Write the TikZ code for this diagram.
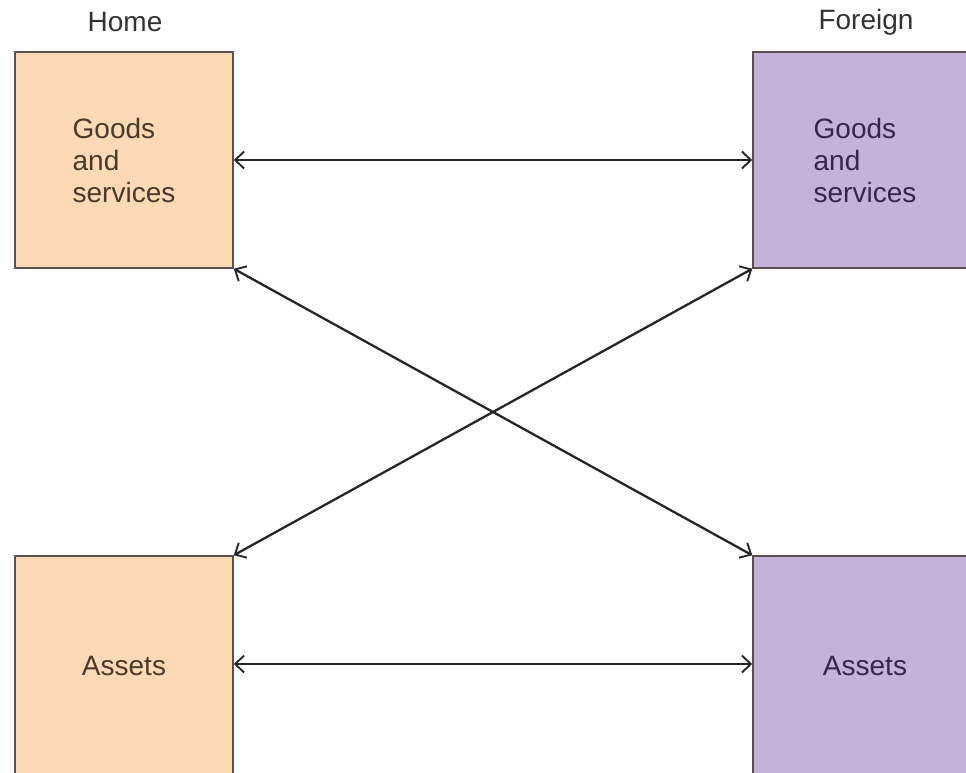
\documentclass[tikz,border=0pt]{standalone}
\usepackage{fontspec}
\setmainfont{Liberation Sans}
\usetikzlibrary{arrows.meta}
\definecolor{homefill}{HTML}{FDD9B6}
\definecolor{forfill}{HTML}{C6B1D8}
\definecolor{boxline}{HTML}{5A5050}
\definecolor{hometext}{HTML}{4A3A2C}
\definecolor{fortext}{HTML}{35284A}
\definecolor{headtext}{HTML}{333333}
\tikzset{
  sector/.style={rectangle, draw=boxline, line width=1.5pt, minimum width=218pt, minimum height=216pt, inner sep=0pt, font=\fontsize{28}{32}\selectfont, align=left},
  homebox/.style={sector, fill=homefill, text=hometext},
  forbox/.style={sector, fill=forfill, text=fortext},
  head/.style={font=\fontsize{28}{32}\selectfont, text=headtext},
  flow/.style={draw=black!85, line width=2.3pt, {Straight Barb[length=9pt,width=17pt,line width=1.9pt]}-{Straight Barb[length=9pt,width=17pt,line width=1.9pt]}}
}
\begin{document}
\begin{tikzpicture}[x=1pt,y=-1pt]
\useasboundingbox (0,0) rectangle (966,772);
\clip (0,0) rectangle (966,772);
\node[homebox] (hg) at (124,160) {Goods\\and\\services};
\node[forbox, minimum width=224pt] (fg) at (865,160) {Goods\\and\\services};
\node[homebox, minimum height=222pt] (ha) at (124,667) {\raisebox{3pt}{Assets}};
\node[forbox, minimum width=224pt, minimum height=222pt] (fa) at (865,667) {\raisebox{3pt}{Assets}};
\node[head] (hh) at (125,22) {Home};
\node[head] (fh) at (866,22) {Foreign};
\draw[flow] (hg.east) -- (fg.west);
\draw[flow] ([yshift=3pt]ha.east) -- ([yshift=3pt]fa.west);
\draw[flow] (hg.south east) -- (fa.north west);
\draw[flow] (fg.south west) -- (ha.north east);
\end{tikzpicture}
\end{document}
